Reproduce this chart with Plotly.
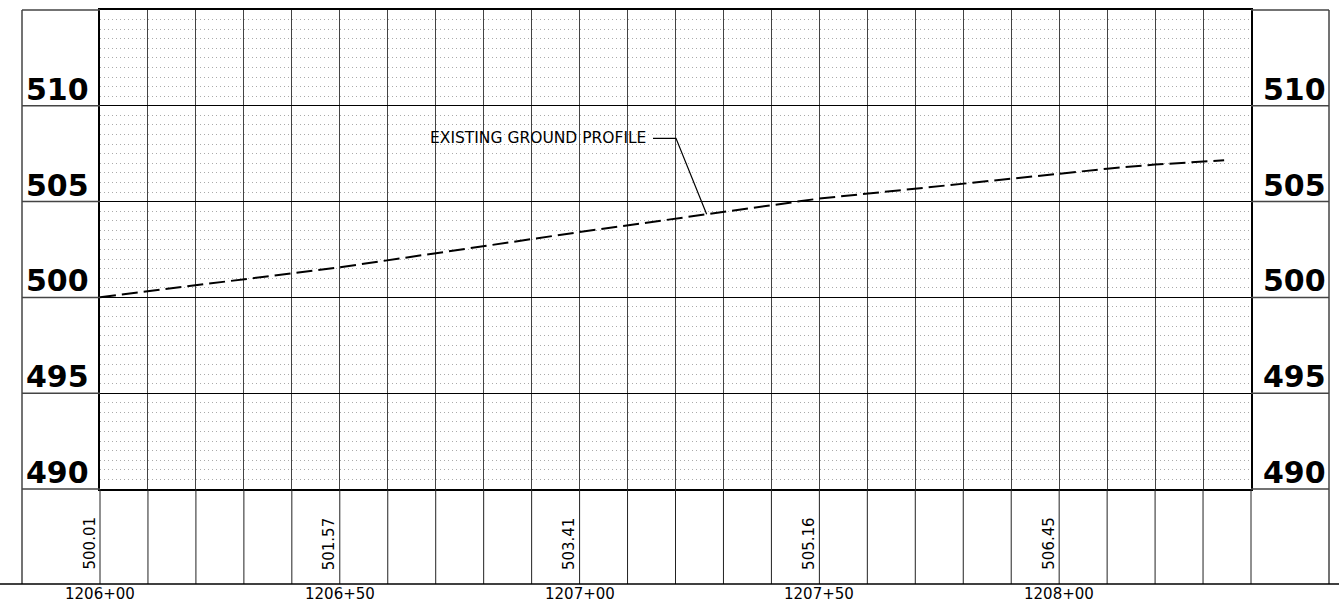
import numpy as np
import plotly.graph_objects as go

# existing ground profile: offset (ft) from station 1206+00, elevation (ft)
profile_sta = [0, 50, 100, 150, 200, 210, 220, 230, 234.4]
profile_elev = [500.01, 501.57, 503.41, 505.16, 506.45, 506.72, 506.93, 507.10, 507.16]

# labels along the bottom band
label_sta = [0, 50, 100, 150, 200]
label_elev = ["500.01", "501.57", "503.41", "505.16", "506.45"]
station_text = ["1206+00", "1206+50", "1207+00", "1207+50", "1208+00"]
elev_ticks = [490, 495, 500, 505, 510]

W, H = 1339, 603
# grid frame in pixels
L, R, T, B = 100, 1251, 10, 489
BAND = 584          # bottom of the elevation/station band
LCOL, RCOL = 22, 1329

x0, x1 = 0, 240
y0, y1 = 490, 515
sx = (R - L) / (x1 - x0)
sy = (B - T) / (y1 - y0)


def fx(px):
    return x0 + (px - L) / sx


def fy(py):
    return y1 - (py - T) / sy


FONT = "DejaVu Sans"
fig = go.Figure()

# profile line
fig.add_trace(go.Scatter(
    x=profile_sta, y=profile_elev, mode="lines",
    line=dict(color="black", width=2, dash="16px,6px"),
    hoverinfo="skip", showlegend=False,
))

# leader for the callout
tip_sta = 126.5
tip_elev = float(np.interp(tip_sta, profile_sta, profile_elev))
lead_y = fy(138.3)
fig.add_trace(go.Scatter(
    x=[fx(653), fx(676), tip_sta], y=[lead_y, lead_y, tip_elev], mode="lines",
    line=dict(color="black", width=1.2), hoverinfo="skip", showlegend=False,
))

shapes = []
line_c = "#444"
# vertical lines in the bottom band
for s in range(x0, x1 + 1, 10):
    shapes.append(dict(type="line", xref="x2", yref="y2", x0=s, x1=s,
                       y0=y0, y1=fy(BAND), line=dict(color="#222", width=1)))
# side label columns
for px in (LCOL, RCOL):
    shapes.append(dict(type="line", xref="x2", yref="y2", x0=fx(px), x1=fx(px),
                       y0=y1, y1=fy(BAND), line=dict(color=line_c, width=1.5)))
for e in elev_ticks + [y1]:
    shapes.append(dict(type="line", xref="x2", yref="y2", x0=fx(LCOL), x1=x0,
                       y0=e, y1=e, line=dict(color=line_c, width=1.5)))
    shapes.append(dict(type="line", xref="x2", yref="y2", x0=x1, x1=fx(RCOL),
                       y0=e, y1=e, line=dict(color=line_c, width=1.5)))
# bottom line across the sheet
shapes.append(dict(type="line", xref="x2", yref="y2", x0=fx(0), x1=fx(W),
                   y0=fy(BAND), y1=fy(BAND), line=dict(color="black", width=1.5)))

ann = []
# big elevation labels on both sides
for e in elev_ticks:
    ann.append(dict(xref="x2", yref="y2", x=fx(LCOL + 2), y=e, text=str(e),
                    xanchor="left", yanchor="bottom", showarrow=False, yshift=-3,
                    font=dict(family=FONT, size=30, color="black", weight="bold")))
    ann.append(dict(xref="x2", yref="y2", x=fx(RCOL - 1), y=e, text=str(e),
                    xanchor="right", yanchor="bottom", showarrow=False, yshift=-3,
                    font=dict(family=FONT, size=30, color="black", weight="bold")))
# ground elevations and stations
for s, ev, st in zip(label_sta, label_elev, station_text):
    ann.append(dict(xref="x2", yref="y2", x=s, y=fy(572), text=ev, textangle=-90,
                    xanchor="right", yanchor="bottom", showarrow=False,
                    font=dict(family=FONT, size=15, color="black")))
    ann.append(dict(xref="x2", yref="y2", x=s, y=fy(594), text=st,
                    xanchor="center", yanchor="middle", showarrow=False,
                    font=dict(family=FONT, size=15, color="black")))
# callout text
ann.append(dict(xref="x2", yref="y2", x=fx(648), y=lead_y, text="EXISTING GROUND PROFILE",
                xanchor="right", yanchor="middle", showarrow=False,
                font=dict(family=FONT, size=15.5, color="black")))

fig.update_layout(
    width=W, height=H,
    margin=dict(l=0, r=0, t=0, b=0),
    paper_bgcolor="white", plot_bgcolor="rgba(0,0,0,0)",
    showlegend=False,
    xaxis=dict(domain=[L / W, R / W], range=[x0, x1], tick0=0, dtick=10,
               showgrid=True, gridcolor="#444", gridwidth=1, zeroline=False,
               showticklabels=False, ticks="", showline=True, mirror=True,
               linecolor="black", linewidth=2),
    yaxis=dict(domain=[1 - B / H, 1 - T / H], range=[y0, y1], tick0=490, dtick=5,
               showgrid=True, gridcolor="black", gridwidth=1, zeroline=False,
               showticklabels=False, ticks="", showline=True, mirror=True,
               linecolor="black", linewidth=2,
               minor=dict(dtick=0.5, showgrid=True, gridcolor="#aaa",
                          griddash="1px,3px", gridwidth=1)),
    xaxis2=dict(domain=[0, 1], range=[fx(0), fx(W)], anchor="y2", visible=False),
    yaxis2=dict(domain=[0, 1], range=[fy(H), fy(0)], anchor="x2", visible=False),
    shapes=shapes,
    annotations=ann,
)

fig.write_html("out.html", config={"displayModeBar": False},
               post_script="document.body.style.margin='0';")
